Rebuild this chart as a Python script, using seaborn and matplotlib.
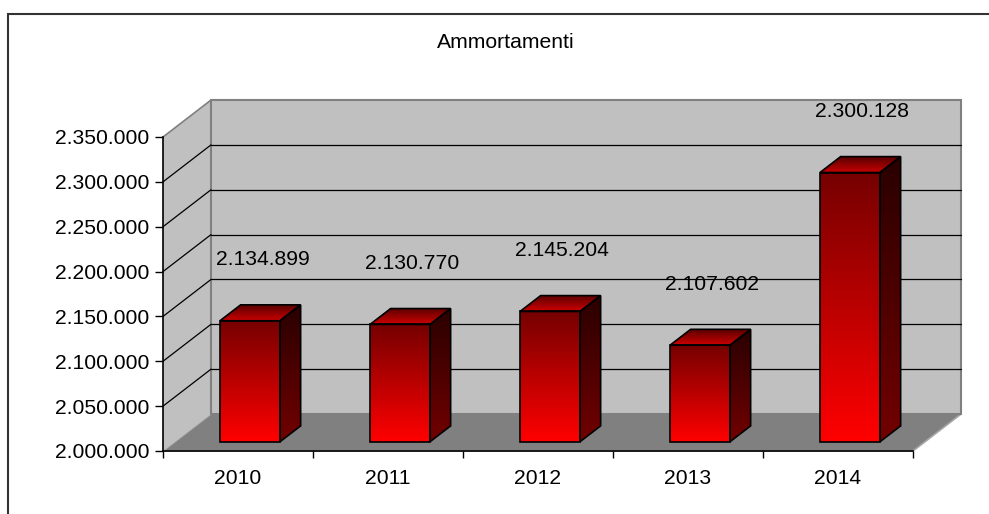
import numpy as np
import pandas as pd
import matplotlib
matplotlib.use("Agg")
import matplotlib.pyplot as plt
import seaborn as sns
from matplotlib.patches import Polygon, Rectangle
from matplotlib.colors import to_rgb

# --- data ---
years = ["2010", "2011", "2012", "2013", "2014"]
ammortamenti = [2134899, 2130770, 2145204, 2107602, 2300128]
chart_title = "Ammortamenti"

# axis range (Excel-like)
BASE, TOP, STEP = 2000000, 2350000, 50000

# fake 3D box: depth vector in data units (x in categories, y in value units)
DX, DY = 0.32, 41200
BAR_FRONT, BAR_DEPTH, BAR_W = 0.25, 0.43, 0.4
FS = 15.2


def it_fmt(v):
    return f"{v:,.0f}".replace(",", ".")


def gradient(ax, clip, extent, top_c, bot_c, z=2):
    c = np.linspace(to_rgb(top_c), to_rgb(bot_c), 64)[:, None, :]
    im = ax.imshow(c, extent=extent, origin="upper", aspect="auto",
                   interpolation="bilinear", zorder=z)
    im.set_clip_path(clip)


sns.set_style("white")
plt.rcParams["font.family"] = ["Liberation Sans", "DejaVu Sans"]
plt.rcParams["text.color"] = "black"
plt.rcParams["xtick.labelcolor"] = "black"
plt.rcParams["ytick.labelcolor"] = "black"

df = pd.DataFrame({"anno": years, "valore": ammortamenti})

fig = plt.figure(figsize=(9.89, 5.14), dpi=100)
ax = fig.add_axes([163 / 989, (514 - 451) / 514, 750 / 989, (451 - 137) / 514])
sns.barplot(data=df, x="anno", y="valore", color="red", width=BAR_W,
            saturation=1, ax=ax)
bars = list(ax.patches)
ax.patch.set_visible(False)

x_lo, x_hi = -0.5, len(years) - 0.5

# walls and floor
ax.add_patch(Polygon([(x_lo, BASE), (x_hi, BASE), (x_hi + DX, BASE + DY), (x_lo + DX, BASE + DY)],
                     closed=True, fc="#808080", ec="#a6a6a6", lw=1.2, zorder=0, clip_on=False))
ax.add_patch(Polygon([(x_lo, BASE), (x_lo + DX, BASE + DY), (x_lo + DX, TOP + DY), (x_lo, TOP)],
                     closed=True, fc="#c0c0c0", ec="none", zorder=0, clip_on=False))
ax.plot([x_lo, x_lo + DX], [TOP, TOP + DY], color="#808080", lw=1.2, zorder=0.6, clip_on=False)
ax.add_patch(Rectangle((x_lo + DX, BASE + DY), x_hi - x_lo, TOP - BASE,
                       fc="#c0c0c0", ec="#808080", lw=1.5, zorder=0, clip_on=False))

# gridlines on back wall and side wall
for v in np.arange(BASE + STEP, TOP, STEP):
    ax.plot([x_lo + DX, x_hi + DX], [v + DY, v + DY], color="black", lw=0.9, zorder=0.5, clip_on=False)
    ax.plot([x_lo, x_lo + DX], [v, v + DY], color="black", lw=0.9, zorder=0.5, clip_on=False)

# bars: front face from seaborn, side and top faces added
ox, oy = BAR_FRONT * DX, BAR_FRONT * DY
bdx, bdy = BAR_DEPTH * DX, BAR_DEPTH * DY
for i, (bar, v) in enumerate(zip(bars, ammortamenti)):
    x0 = bar.get_x() + ox
    bar.set_x(x0)
    bar.set_y(BASE + oy)
    bar.set_height(v - BASE)
    bar.set_facecolor("none")
    bar.set_edgecolor("black")
    bar.set_linewidth(1.2)
    bar.set_zorder(3)
    x1 = x0 + bar.get_width()
    yb, yt = BASE + oy, v + oy
    gradient(ax, bar, (x0, x1, yb, yt), "#760000", "#ff0000")

    side = Polygon([(x1, yb), (x1 + bdx, yb + bdy), (x1 + bdx, yt + bdy), (x1, yt)],
                   closed=True, fc="none", ec="black", lw=1.2, zorder=3)
    ax.add_patch(side)
    gradient(ax, side, (x1, x1 + bdx, yb, yt + bdy), "#2a0000", "#720000")

    top = Polygon([(x0, yt), (x1, yt), (x1 + bdx, yt + bdy), (x0 + bdx, yt + bdy)],
                  closed=True, fc="none", ec="black", lw=1.2, zorder=3)
    ax.add_patch(top)
    gradient(ax, top, (x0, x1 + bdx, yt, yt + bdy), "#5a0000", "#cc0000")

    ax.annotate(it_fmt(v), xy=(i + ox + bdx / 2, yt), xytext=(1.5, 44),
                textcoords="offset points", ha="center", va="center",
                fontsize=FS, zorder=5, annotation_clip=False)

# axes, ticks
ax.set_xlim(x_lo, x_hi)
ax.set_ylim(BASE, TOP)
yticks = np.arange(BASE, TOP + 1, STEP)
ax.set_yticks(yticks)
ax.set_yticklabels([it_fmt(v) for v in yticks], fontsize=FS)
ax.set_xticks(range(len(years)))
ax.set_xticklabels(years, fontsize=FS)
ax.set_xticks(np.arange(x_lo, x_hi + 0.1, 1), minor=True)
ax.tick_params(axis="x", which="major", length=0, pad=13, bottom=True)
ax.tick_params(axis="x", which="minor", length=5, width=1, color="black", direction="out", bottom=True)
ax.tick_params(axis="y", length=6, width=1, color="black", direction="out", pad=4, left=True)
ax.set_xlabel("")
ax.set_ylabel("")
for s in ["top", "right"]:
    ax.spines[s].set_visible(False)
for s in ["left", "bottom"]:
    ax.spines[s].set_color("black")
    ax.spines[s].set_linewidth(1.2)
    ax.spines[s].set_zorder(2.5)

fig.text(506 / 989, 1 - 42 / 514, chart_title, ha="center", va="center", fontsize=FS)

# outer chart frame
fig.add_artist(Rectangle((8 / 989, -0.1), 1.0, 1.1 - 14 / 514, transform=fig.transFigure,
                         fc="none", ec="#333333", lw=1.5))

fig.savefig("out.png", dpi=100)
